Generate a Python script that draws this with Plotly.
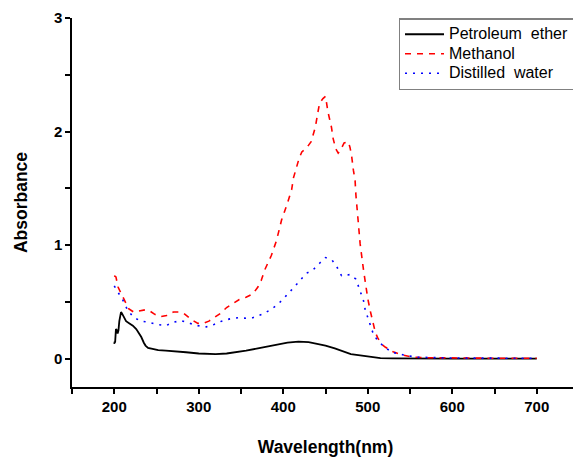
import plotly.graph_objects as go

# Petroleum ether (black, solid)
pe_wl = [200, 200.5, 201, 202, 203, 204, 205, 206, 207, 208, 209, 210.5, 212, 214, 218, 222, 226,
         229, 232, 235, 237, 240, 245, 252, 261, 272, 285, 300, 309, 320, 333, 345, 356, 370,
         390, 405, 418, 430, 440, 450, 461, 470, 480, 491, 500, 507, 515, 530, 550, 600, 650, 700]
pe_abs = [0.13, 0.15, 0.14, 0.26, 0.25, 0.22, 0.25, 0.33, 0.40, 0.41, 0.40, 0.38, 0.35, 0.33, 0.31,
          0.29, 0.26, 0.23, 0.19, 0.14, 0.115, 0.095, 0.085, 0.075, 0.07, 0.065, 0.056, 0.045,
          0.04, 0.04, 0.045, 0.055, 0.07, 0.09, 0.12, 0.14, 0.15, 0.145, 0.13, 0.115, 0.09,
          0.065, 0.04, 0.028, 0.02, 0.01, 0.004, 0.002, 0.0, 0.0, 0.0, 0.0]

# Methanol (red, dashed)
me_wl = [200, 202, 204.5, 206.5, 210, 213, 217, 223, 230, 237, 242, 248, 255, 262, 270, 276, 282,
         287, 292, 299, 305, 312, 318, 326, 333, 341, 348, 356, 364, 370, 374, 378, 386, 392,
         398, 405, 410, 412, 416, 419, 422, 428, 433, 436, 438, 441, 443, 447, 450, 453, 457,
         459, 462, 465, 468, 472, 477, 479, 481, 483, 485, 486, 487, 489, 491, 495, 497, 500,
         503, 506, 509, 512, 516, 521, 530, 539, 554, 570, 600, 650, 700]
me_abs = [0.73, 0.72, 0.63, 0.60, 0.54, 0.50, 0.44, 0.41, 0.42, 0.43, 0.42, 0.39, 0.37, 0.38, 0.41,
          0.41, 0.40, 0.37, 0.34, 0.31, 0.31, 0.33, 0.36, 0.40, 0.45, 0.49, 0.52, 0.54, 0.57,
          0.63, 0.69, 0.78, 0.91, 1.04, 1.22, 1.37, 1.49, 1.59, 1.70, 1.77, 1.82, 1.86, 1.91,
          1.98, 2.04, 2.17, 2.25, 2.29, 2.31, 2.17, 2.04, 1.94, 1.85, 1.81, 1.84, 1.90, 1.91,
          1.86, 1.78, 1.66, 1.57, 1.44, 1.34, 1.16, 1.01, 0.78, 0.66, 0.53, 0.42, 0.31, 0.23,
          0.18, 0.13, 0.10, 0.06, 0.035, 0.012, 0.008, 0.005, 0.003, 0.003]

# Distilled water (blue, dotted)
dw_wl = [200, 205, 210.5, 215.6, 222.7, 231.5, 241, 251, 261, 270, 279, 290, 299, 309, 318, 327,
         337, 347, 356, 364, 375, 385, 394, 403, 412, 419, 427, 435, 443, 450, 458, 464, 469,
         474, 479, 486, 489, 492, 495, 497, 500, 503, 506, 511, 520, 529, 546, 560, 600, 700]
dw_abs = [0.64, 0.58, 0.51, 0.43, 0.365, 0.33, 0.32, 0.30, 0.29, 0.32, 0.335, 0.31, 0.29, 0.28,
          0.30, 0.33, 0.35, 0.36, 0.355, 0.36, 0.39, 0.43, 0.48, 0.55, 0.62, 0.68, 0.75, 0.78,
          0.84, 0.89, 0.865, 0.80, 0.73, 0.735, 0.74, 0.70, 0.64, 0.57, 0.51, 0.43, 0.36, 0.30,
          0.23, 0.165, 0.10, 0.056, 0.026, 0.012, 0.005, 0.003]

series_names = ["Petroleum\u00a0 ether", "Methanol", "Distilled\u00a0 water"]

FONT = "Arial, 'Liberation Sans', sans-serif"


def legend_label(name):
    # larger glyphs than the legend's row pitch, as in the reference
    return '<span style="font-size:16px">' + name + '</span>'


fig = go.Figure()
fig.add_trace(go.Scatter(x=pe_wl, y=pe_abs, mode="lines", name=legend_label(series_names[0]),
                         line=dict(color="black", width=1.8)))
fig.add_trace(go.Scatter(x=me_wl, y=me_abs, mode="lines", name=legend_label(series_names[1]),
                         line=dict(color="#ff0000", width=1.6, dash="6px,6px")))
fig.add_trace(go.Scatter(x=dw_wl, y=dw_abs, mode="lines", name=legend_label(series_names[2]),
                         line=dict(color="#0000ff", width=1.6, dash="2px,6px")))

# page body has an 8px margin, so the figure is 8px smaller and offsets compensate
fig.update_layout(
    width=573, height=449,
    margin=dict(l=64, r=2, t=10, b=70, autoexpand=False),
    paper_bgcolor="white", plot_bgcolor="white",
    font=dict(family=FONT, color="black"),
    showlegend=True,
    legend=dict(x=0.644, y=1.0, xanchor="left", yanchor="top",
                bgcolor="white", bordercolor="#808080", borderwidth=1.5,
                font=dict(size=12.7, family=FONT), tracegroupgap=0,
                itemwidth=39),
)
fig.update_xaxes(
    range=[150, 750], tickvals=[200, 300, 400, 500, 600, 700],
    ticks="outside", ticklen=5, tickwidth=1.5, tickcolor="black",
    minor=dict(tickvals=[150, 250, 350, 450, 550, 650, 750], ticks="outside", ticklen=5,
               tickwidth=1.5, tickcolor="black"),
    showline=True, linecolor="black", linewidth=1.5, showgrid=False, zeroline=False,
    tickfont=dict(size=15, family=FONT, weight="bold"),
    title=dict(text="<b>Wavelength(nm)</b>", font=dict(size=17.5, family=FONT), standoff=30),
    automargin=False,
)
fig.update_yaxes(
    range=[-0.25, 3], tickvals=[0, 1, 2, 3],
    ticks="outside", ticklen=5, tickwidth=1.5, tickcolor="black",
    minor=dict(tickvals=[0.5, 1.5, 2.5], ticks="outside", ticklen=5,
               tickwidth=1.5, tickcolor="black"),
    showline=True, linecolor="black", linewidth=1.5, showgrid=False, zeroline=False,
    tickfont=dict(size=15, family=FONT, weight="bold"),
    title=dict(text="<b>Absorbance</b>", font=dict(size=17.5, family=FONT), standoff=22),
    automargin=False,
)

fig.write_html("out.html")
